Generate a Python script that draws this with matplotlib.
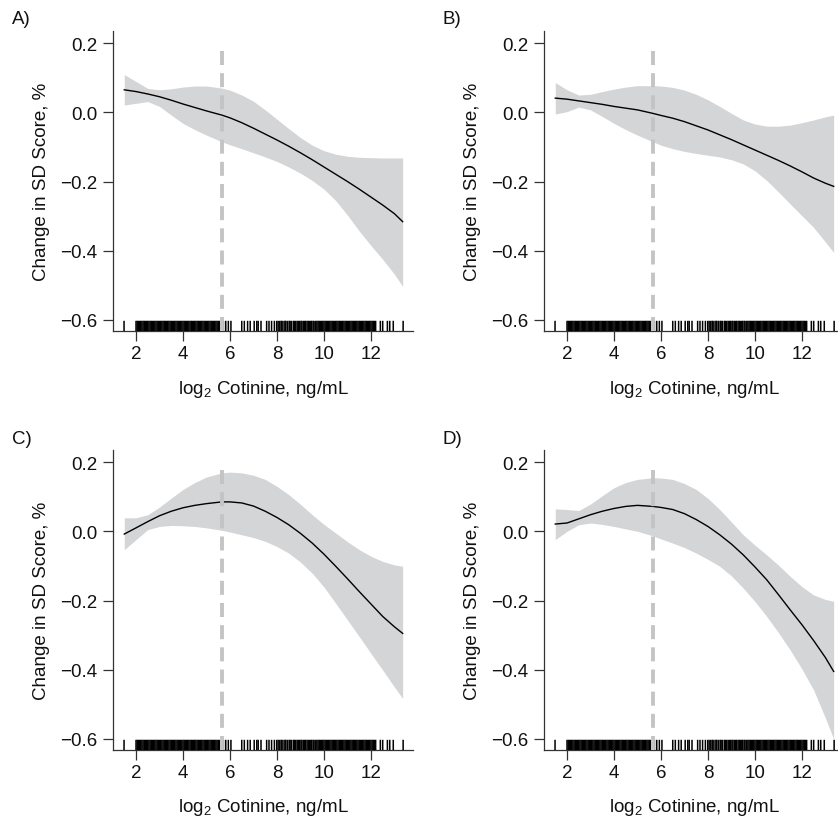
import matplotlib
matplotlib.use("Agg")
import matplotlib.pyplot as plt

plt.rcParams['font.family'] = ['Liberation Sans', 'DejaVu Sans']
plt.rcParams['mathtext.fontset'] = 'custom'
plt.rcParams['mathtext.rm'] = 'Liberation Sans'
plt.rcParams['mathtext.default'] = 'regular'

# ---------------- data ----------------
panel_labels = ["A)", "B)", "C)", "D)"]
x_grid = [1.5, 2.0, 2.5, 3.0, 3.5, 4.0, 4.5, 5.0, 5.65, 6.0, 6.5, 7.0, 7.5, 8.0, 8.5,
          9.0, 9.5, 10.0, 10.5, 11.0, 11.5, 12.0, 12.5, 13.0, 13.35]

fit_A = [0.065, 0.060, 0.053, 0.045, 0.035, 0.024, 0.014, 0.004, -0.008, -0.016, -0.030, -0.046, -0.063,
         -0.080, -0.098, -0.117, -0.137, -0.158, -0.179, -0.200, -0.222, -0.245, -0.268, -0.293, -0.316]
upper_A = [0.109, 0.089, 0.069, 0.065, 0.068, 0.073, 0.076, 0.076, 0.070, 0.064, 0.050, 0.032, 0.007,
           -0.020, -0.047, -0.073, -0.095, -0.111, -0.121, -0.127, -0.130, -0.131, -0.132, -0.132, -0.132]
lower_A = [0.021, 0.026, 0.031, 0.017, -0.008, -0.032, -0.050, -0.066, -0.085, -0.094, -0.105, -0.117, -0.129,
           -0.142, -0.158, -0.176, -0.197, -0.222, -0.255, -0.297, -0.343, -0.385, -0.425, -0.468, -0.503]

fit_B = [0.041, 0.038, 0.033, 0.028, 0.023, 0.017, 0.012, 0.007, -0.003, -0.009, -0.017, -0.027, -0.039,
         -0.051, -0.065, -0.079, -0.094, -0.109, -0.124, -0.139, -0.155, -0.172, -0.190, -0.205, -0.214]
upper_B = [0.086, 0.065, 0.050, 0.052, 0.060, 0.067, 0.073, 0.077, 0.077, 0.076, 0.072, 0.064, 0.052,
           0.036, 0.017, -0.003, -0.022, -0.034, -0.040, -0.040, -0.037, -0.030, -0.022, -0.013, -0.008]
lower_B = [-0.005, 0.002, 0.015, 0.007, -0.012, -0.032, -0.050, -0.066, -0.085, -0.095, -0.105, -0.113, -0.119,
           -0.124, -0.129, -0.137, -0.149, -0.169, -0.197, -0.230, -0.265, -0.299, -0.333, -0.375, -0.405]

fit_C = [-0.008, 0.010, 0.028, 0.045, 0.058, 0.068, 0.075, 0.080, 0.085, 0.085, 0.082, 0.073, 0.058,
         0.040, 0.019, -0.006, -0.034, -0.066, -0.101, -0.137, -0.174, -0.210, -0.246, -0.276, -0.295]
upper_C = [0.039, 0.039, 0.048, 0.070, 0.096, 0.121, 0.141, 0.157, 0.169, 0.171, 0.169, 0.162, 0.150,
           0.130, 0.106, 0.078, 0.048, 0.020, -0.005, -0.030, -0.053, -0.072, -0.087, -0.097, -0.101]
lower_C = [-0.053, -0.024, 0.005, 0.014, 0.017, 0.016, 0.014, 0.010, 0.003, -0.002, -0.010, -0.018, -0.029,
           -0.044, -0.063, -0.089, -0.121, -0.161, -0.208, -0.256, -0.304, -0.353, -0.401, -0.450, -0.483]

fit_D = [0.021, 0.024, 0.036, 0.048, 0.058, 0.066, 0.072, 0.075, 0.072, 0.069, 0.063, 0.051, 0.034,
         0.014, -0.010, -0.037, -0.068, -0.103, -0.140, -0.183, -0.227, -0.270, -0.316, -0.365, -0.405]
upper_D = [0.065, 0.063, 0.060, 0.079, 0.103, 0.126, 0.141, 0.150, 0.155, 0.154, 0.150, 0.138, 0.121,
           0.095, 0.063, 0.027, -0.010, -0.040, -0.068, -0.098, -0.130, -0.160, -0.184, -0.197, -0.202]
lower_D = [-0.024, 0.000, 0.019, 0.024, 0.020, 0.014, 0.007, 0.000, -0.013, -0.022, -0.034, -0.047, -0.063,
           -0.081, -0.101, -0.129, -0.164, -0.203, -0.246, -0.293, -0.343, -0.398, -0.459, -0.540, -0.600]

fits = [fit_A, fit_B, fit_C, fit_D]
uppers = [upper_A, upper_B, upper_C, upper_D]
lowers = [lower_A, lower_B, lower_C, lower_D]

reference_x = 5.65  # dashed vertical line
reference_top = 0.18

rug_values = [
    1.49,
    2.00, 2.05, 2.10, 2.15, 2.20, 2.25, 2.30, 2.35, 2.40, 2.45, 2.50, 2.55, 2.60, 2.65, 2.70, 2.75,
    2.80, 2.85, 2.90, 2.95, 3.00, 3.05, 3.10, 3.15, 3.20, 3.25, 3.30, 3.35, 3.40, 3.45, 3.50, 3.55,
    3.60, 3.65, 3.70, 3.75, 3.80, 3.85, 3.90, 3.95, 4.00, 4.05, 4.10, 4.15, 4.20, 4.25, 4.30, 4.35,
    4.40, 4.45, 4.50, 4.55, 4.60, 4.65, 4.70, 4.75, 4.80, 4.85, 4.90, 4.95, 5.00, 5.05, 5.10, 5.15,
    5.20, 5.25, 5.30, 5.35, 5.40, 5.45, 5.50, 5.55,
    5.72, 5.82, 5.93, 6.04, 6.50, 6.61, 6.75, 6.86, 7.03, 7.14, 7.20, 7.32, 7.56, 7.66, 7.77, 7.89,
    7.99, 8.05,
    8.12, 8.18, 8.22, 8.30, 8.35, 8.38, 8.45, 8.52, 8.56, 8.62, 8.70, 8.74, 8.80, 8.86, 8.92, 8.96,
    9.02, 9.06, 9.12, 9.18, 9.22, 9.28, 9.33, 9.38, 9.44, 9.48, 9.54, 9.58,
    9.65, 9.70, 9.75, 9.80, 9.85, 9.90, 9.95, 10.00, 10.05, 10.10, 10.15, 10.20, 10.25, 10.30, 10.35,
    10.40, 10.45, 10.50, 10.55, 10.60, 10.65, 10.70, 10.75, 10.80, 10.85, 10.90, 10.95, 11.00, 11.05,
    11.10, 11.15, 11.20, 11.25, 11.30, 11.35, 11.40, 11.45, 11.50, 11.55, 11.60, 11.65, 11.70, 11.75,
    11.80, 11.85, 11.90, 11.95, 12.00, 12.05, 12.10, 12.15, 12.20,
    12.40, 12.50, 12.70, 12.80, 12.95, 13.37,
]

y_ticks = [0.2, 0.0, -0.2, -0.4, -0.6]
x_ticks = [2, 4, 6, 8, 10, 12]
y_label = "Change in SD Score, %"
x_label = "log$_2$ Cotinine, ng/mL"

# ---------------- layout ----------------
W, H = 838, 820
fig = plt.figure(figsize=(W / 100, H / 100), dpi=100)

boxes = [(113, 32), (544, 32), (113, 451), (544, 451)]
label_pos = [(12, 20), (442, 20), (12, 440), (442, 440)]
box_w, box_h = 300, 300

fill_color = '#d4d5d7'
spine_color = '#333333'

for i in range(4):
    lx, ty = boxes[i]
    ax = fig.add_axes([lx / W, (H - ty - box_h) / H, box_w / W, box_h / H])
    ax.set_xlim(1.02, 13.79)
    ax.set_ylim(-0.632, 0.235)

    ax.fill_between(x_grid, lowers[i], uppers[i], color=fill_color, linewidth=0, zorder=1)
    ax.plot(x_grid, fits[i], color='black', linewidth=1.0, zorder=2)

    ax.vlines(rug_values, 0, 0.034, transform=ax.get_xaxis_transform(),
              color='black', linewidth=1.1, snap=False, zorder=3)

    ax.vlines(reference_x, -0.632, reference_top, colors='#c4c4c4', linewidth=2.8,
              linestyles=(0, (3.6, 2.1)), zorder=4)

    for s in ['top', 'right']:
        ax.spines[s].set_visible(False)
    for s in ['left', 'bottom']:
        ax.spines[s].set_color(spine_color)
        ax.spines[s].set_linewidth(0.9)

    ax.set_yticks(y_ticks)
    ax.set_yticklabels([f"{v:.1f}".replace('-', '\u2212') for v in y_ticks])
    ax.set_xticks(x_ticks)
    ax.tick_params(axis='both', direction='out', length=7, width=0.9, color=spine_color,
                   labelsize=13.5, labelcolor='#111111')
    ax.tick_params(axis='y', pad=4)
    ax.tick_params(axis='x', pad=3)

    ax.set_ylabel(y_label, fontsize=13.5, color='#111111')
    ax.yaxis.set_label_coords(-0.21, 0.5)
    ax.set_xlabel(x_label, fontsize=13.5, color='#111111', va='top')
    ax.xaxis.set_label_coords(0.5, -0.155)

    px, py = label_pos[i]
    fig.text(px / W, 1 - py / H, panel_labels[i], fontsize=13.5, ha='left', va='center',
             color='#111111')

fig.savefig("out.png", dpi=100)
